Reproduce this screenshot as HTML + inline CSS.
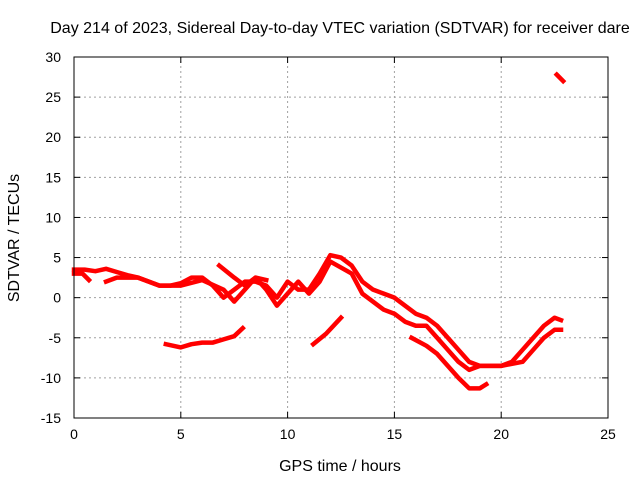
<!DOCTYPE html>
<html><head><meta charset="utf-8"><style>
html,body{margin:0;padding:0;background:#fff}
svg{display:block}
text{font-family:"Liberation Sans",sans-serif;font-size:14px;fill:#000}
.big{font-size:16px}
</style></head><body>
<svg id="chart" width="640" height="480" viewBox="0 0 640 480">
<rect x="0" y="0" width="640" height="480" fill="#fff"/>
<text class="big" x="340" y="33" text-anchor="middle">Day 214 of 2023, Sidereal Day-to-day VTEC variation (SDTVAR) for receiver dare</text>
<text class="big" x="340" y="471" text-anchor="middle">GPS time / hours</text>
<text class="big" transform="translate(19,238) rotate(-90)" text-anchor="middle">SDTVAR / TECUs</text>
<g id="grid"></g><g id="axes"></g><g id="series"></g>
<rect x="74" y="57" width="534" height="361" fill="none" stroke="#000" stroke-width="1"/>
</svg>
<script>
const xTicks=[0,5,10,15,20,25];
const yTicks=[-15,-10,-5,0,5,10,15,20,25,30];
const seriesA=[[0,3.5],[0.5,3.5],[1,3.3],[1.5,3.6],[2,3.2],[2.5,2.8],[3,2.5],[3.5,2],[4,1.5],[4.5,1.5],[5,1.8],[5.5,2.5],[6,2.5],[6.5,1.5],[7,0],[7.5,1],[8,2],[8.5,2],[9,1.5],[9.5,0],[10,2],[10.5,1],[11,1],[11.5,3],[12,5.3],[12.5,5],[13,4],[13.5,2],[14,1],[14.5,0.5],[15,0],[15.5,-1],[16,-2],[16.5,-2.5],[17,-3.5],[17.5,-5],[18,-6.5],[18.5,-8],[19,-8.5],[19.5,-8.5],[20,-8.5],[20.5,-8],[21,-6.5],[21.5,-5],[22,-3.5],[22.5,-2.5],[22.8,-2.8]];
const seriesB=[[1.5,2],[2,2.5],[3,2.5],[4,1.5],[5,1.5],[6,2.2],[7,1],[7.5,-0.5],[8,1],[8.5,2.5],[9,1],[9.5,-1],[10,0.5],[10.5,2],[11,0.5],[11.5,2],[12,4.5],[13,3],[13.5,0.5],[14,-0.5],[14.5,-1.5],[15,-2],[15.5,-3],[16,-3.5],[16.5,-3.5],[17,-5],[17.5,-6.5],[18,-8],[18.5,-9],[19,-8.5],[20,-8.5],[21,-8],[21.5,-6.5],[22,-5],[22.5,-4],[22.8,-4]];
const seriesC=[[6.8,4],[7.5,2.5],[8,1.5],[8.5,2.5],[9,2.2]];
const seriesD=[[4.3,-5.8],[5,-6.2],[5.5,-5.8],[6,-5.6],[6.5,-5.6],[7,-5.2],[7.5,-4.8],[7.9,-3.8]];
const seriesE=[[11.2,-5.8],[11.8,-4.5],[12.5,-2.5]];
const seriesF=[[15.8,-5],[16.5,-6],[17,-7],[17.5,-8.5],[18,-10],[18.5,-11.3],[19,-11.3],[19.3,-10.8]];
const seriesG=[[22.6,27.8],[22.9,27]];
const seriesH=[[0,3],[0.4,3],[0.7,2.2]];
const allSeries=[seriesA,seriesB,seriesC,seriesD,seriesE,seriesF,seriesG,seriesH];
const X0=74,X1=608,Y0=418,Y1=57;
const xs=v=>X0+(v-0)/25*(X1-X0);
const ys=v=>Y0-(v+15)/45*(Y0-Y1);
const NS="http://www.w3.org/2000/svg";
const grid=document.getElementById('grid'),axes=document.getElementById('axes'),ser=document.getElementById('series');
function mk(t,a,p){const e=document.createElementNS(NS,t);for(const k in a)e.setAttribute(k,a[k]);p.appendChild(e);return e;}
xTicks.forEach(t=>{const x=xs(t);
 if(t>0&&t<25){const g=mk('line',{x1:x,x2:x,y1:Y0,y2:Y1,stroke:'#a0a0a0','stroke-dasharray':'2,3'},grid);
 }
 mk('line',{x1:x,x2:x,y1:Y0,y2:Y0-6,stroke:'#000'},axes);mk('line',{x1:x,x2:x,y1:Y1,y2:Y1+6,stroke:'#000'},axes);
 const l=mk('text',{x:x,y:Y0+21,'text-anchor':'middle'},axes);l.textContent=t;
 });
yTicks.forEach(t=>{const y=ys(t);
 if(t>-15&&t<30){const g=mk('line',{x1:X0,x2:X1,y1:y,y2:y,stroke:'#a0a0a0','stroke-dasharray':'2,3'},grid);
 }
 mk('line',{x1:X0,x2:X0+6,y1:y,y2:y,stroke:'#000'},axes);mk('line',{x1:X1,x2:X1-6,y1:y,y2:y,stroke:'#000'},axes);
 const l=mk('text',{x:X0-13,y:y+5,'text-anchor':'end'},axes);l.textContent=t;
 });
allSeries.forEach((s,i)=>{const p=mk('polyline',{points:s.map(d=>xs(d[0])+','+ys(d[1])).join(' '),fill:'none',stroke:'#f00','stroke-width':4.5,'stroke-linejoin':'round','stroke-linecap':'square'},ser);
 
 });
</script>
</body></html>
